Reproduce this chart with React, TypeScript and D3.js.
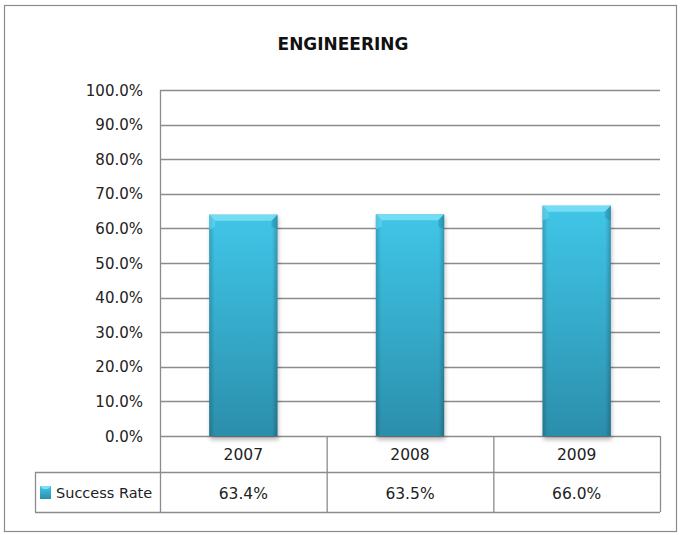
import React from "react";
import * as d3 from "d3";

const categories = ["2007", "2008", "2009"];
const successRate = [63.4, 63.5, 66.0];
const yTicks = [0, 10, 20, 30, 40, 50, 60, 70, 80, 90, 100];
const seriesName = "Success Rate";
const title = "ENGINEERING";

export default function App() {
  const W = 682, H = 535;
  const left = 160, right = 660, top = 90, bottom = 436;
  const row1 = 472, row2 = 512, legendLeft = 35;
  const x = d3.scaleBand<string>().domain(categories).range([left, right]).paddingInner(0).paddingOuter(0);
  const y = d3.scaleLinear().domain([0, 100]).range([bottom, top]);
  const barW = x.bandwidth() * 0.41;
  const font = "'DejaVu Sans', Tahoma, sans-serif";
  const bev = 6;
  return (
    <svg width={W} height={H} style={{ position: "absolute", left: 0, top: 0 }}>
      <defs>
        <linearGradient id="barV" x1="0" y1="0" x2="0" y2="1">
          <stop offset="0" stopColor="#40c6e8" />
          <stop offset="0.5" stopColor="#36abcb" />
          <stop offset="1" stopColor="#2b8eab" />
        </linearGradient>
        <linearGradient id="barH" x1="0" y1="0" x2="1" y2="0">
          <stop offset="0" stopColor="#000" stopOpacity="0.18" />
          <stop offset="0.08" stopColor="#000" stopOpacity="0" />
          <stop offset="0.92" stopColor="#000" stopOpacity="0" />
          <stop offset="1" stopColor="#000" stopOpacity="0.22" />
        </linearGradient>
        <filter id="shadow" x="-20%" y="-5%" width="140%" height="115%">
          <feGaussianBlur stdDeviation="2" />
        </filter>
      </defs>
      <rect x={0} y={0} width={W} height={H} fill="#fff" />
      <rect x={4.5} y={5.5} width={672} height={526} fill="#fff" stroke="#8a8a8a" strokeWidth={1.2} />
      <text x={343} y={50} textAnchor="middle" fontFamily={font} fontWeight="bold" fontSize={17.5} fill="#111" transform="translate(343,0) scale(0.97,1) translate(-343,0)">{title}</text>
      {yTicks.map((t) => (
        <line key={t} x1={left} x2={right} y1={Math.round(y(t)) + 0.5} y2={Math.round(y(t)) + 0.5} stroke="#8c8c8c" strokeWidth={1.3} />
      ))}
      <line x1={left + 0.5} x2={left + 0.5} y1={top} y2={row2} stroke="#8c8c8c" strokeWidth={1.3} />
      {yTicks.map((t) => (
        <text key={"l" + t} x={143} y={y(t) + 5.5} textAnchor="end" fontFamily={font} fontSize={15} fill="#222">{t.toFixed(1) + "%"}</text>
      ))}
      {categories.map((c, i) => {
        const bx = (x(c) as number) + (x.bandwidth() - barW) / 2;
        const by = y(successRate[i]) - 2;
        const bh = bottom - by;
        return (
          <g key={c}>
            <rect x={bx + 1} y={by + 2} width={barW} height={bh + 2} fill="#000" opacity={0.25} filter="url(#shadow)" />
            <rect x={bx} y={by} width={barW} height={bh} fill="url(#barV)" />
            <rect x={bx} y={by} width={barW} height={bh} fill="url(#barH)" />
            <polygon points={`${bx},${by} ${bx + barW},${by} ${bx + barW - bev},${by + bev} ${bx + bev},${by + bev}`} fill="#7ee0f6" opacity={0.85} />
            <polygon points={`${bx},${by} ${bx + bev},${by + bev} ${bx + bev},${by + bev * 2} ${bx},${by + bev * 2.5}`} fill="#6ad6f0" opacity={0.6} />
            <polygon points={`${bx + barW},${by} ${bx + barW - bev},${by + bev} ${bx + barW - bev},${by + bev * 2} ${bx + barW},${by + bev * 2.5}`} fill="#1f7f9a" opacity={0.35} />
          </g>
        );
      })}
      <line x1={left} x2={right} y1={row1 + 0.5} y2={row1 + 0.5} stroke="#8c8c8c" strokeWidth={1.3} />
      <line x1={legendLeft} x2={right} y1={row2 + 0.5} y2={row2 + 0.5} stroke="#8c8c8c" strokeWidth={1.3} />
      <line x1={legendLeft} x2={left} y1={row1 + 0.5} y2={row1 + 0.5} stroke="#8c8c8c" strokeWidth={1.3} />
      <line x1={legendLeft + 0.5} x2={legendLeft + 0.5} y1={row1} y2={row2} stroke="#8c8c8c" strokeWidth={1.3} />
      {categories.map((c) => (
        <line key={"v" + c} x1={(x(c) as number) + x.bandwidth() + 0.5} x2={(x(c) as number) + x.bandwidth() + 0.5} y1={bottom} y2={row2} stroke="#8c8c8c" strokeWidth={1.3} />
      ))}
      {categories.map((c) => (
        <text key={"c" + c} x={(x(c) as number) + x.bandwidth() / 2} y={460} textAnchor="middle" fontFamily={font} fontSize={15.5} fill="#222">{c}</text>
      ))}
      {categories.map((c, i) => (
        <text key={"d" + c} x={(x(c) as number) + x.bandwidth() / 2} y={499} textAnchor="middle" fontFamily={font} fontSize={15.5} fill="#222">{successRate[i].toFixed(1) + "%"}</text>
      ))}
      <rect x={40} y={486} width={11} height={13} fill="url(#barV)" />
      <polygon points="40,486 51,486 48,489 43,489" fill="#7ee0f6" />
      <text x={56} y={498} fontFamily={font} fontSize={14.5} fill="#222">{seriesName}</text>
    </svg>
  );
}
